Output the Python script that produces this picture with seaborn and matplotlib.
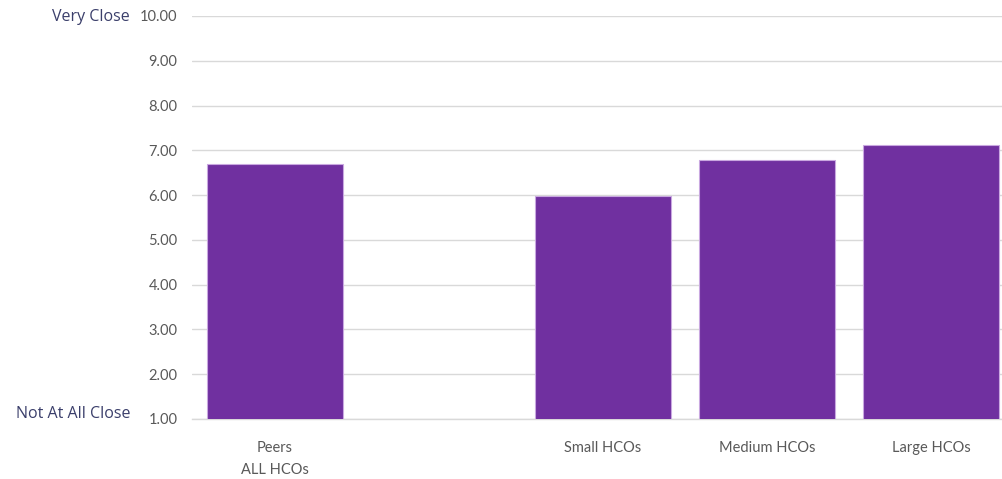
import matplotlib
matplotlib.use("Agg")
import matplotlib.pyplot as plt
import seaborn as sns
import pandas as pd

# Closeness scores by organisation group (1 = not at all close, 10 = very close)
categories = ["Peers\nALL HCOs", " ", "Small HCOs", "Medium HCOs", "Large HCOs"]
groups = ["Peers\nALL HCOs", "Small HCOs", "Medium HCOs", "Large HCOs"]
scores = [6.70, 5.98, 6.79, 7.13]
y_ticks = [1, 2, 3, 4, 5, 6, 7, 8, 9, 10]

sns.set_theme(style="white")
plt.rcParams["font.family"] = ["Lato", "DejaVu Sans"]

df = pd.DataFrame({"group": groups, "score": scores})

fig = plt.figure(figsize=(10.02, 4.79), dpi=100)
ax = fig.add_axes([0.1916, 0.1253, 0.8084, 0.8413])

sns.barplot(data=df, x="group", y="score", order=categories, color="#7030A0",
            saturation=1, width=0.83, edgecolor="#c9a8e0", linewidth=0.8, ax=ax,
            zorder=3)

ax.set_ylim(1, 10)
ax.set_xlim(-0.506, 4.433)
ax.set_yticks(y_ticks)
ax.set_yticklabels([f"{v:.2f}" for v in y_ticks])
ax.yaxis.grid(True, color="#d9d9d9", linewidth=1.0, zorder=0)
ax.xaxis.grid(False)
for s in ["top", "right", "left"]:
    ax.spines[s].set_visible(False)
ax.spines["bottom"].set_color("#d9d9d9")
ax.spines["bottom"].set_linewidth(1.0)
ax.set_xlabel("")
ax.set_ylabel("")
ax.tick_params(axis="y", length=0, pad=10.5, labelsize=10.5, labelcolor="#595959")
ax.tick_params(axis="x", length=0, pad=16, labelsize=10.5, labelcolor="#595959")
for lbl in ax.get_xticklabels():
    lbl.set_linespacing(1.75)

side_color = "#3b3f6b"
side_font = ["Open Sans", "DejaVu Sans"]
fig.text(130 / 1002, 1 - 17 / 479, "Very Close", ha="right", va="center",
         fontsize=11.5, color=side_color, family=side_font)
fig.text(130 / 1002, 1 - 414 / 479, "Not At All Close", ha="right", va="center",
         fontsize=11.5, color=side_color, family=side_font)

fig.savefig("out.png", dpi=100, facecolor="white")
